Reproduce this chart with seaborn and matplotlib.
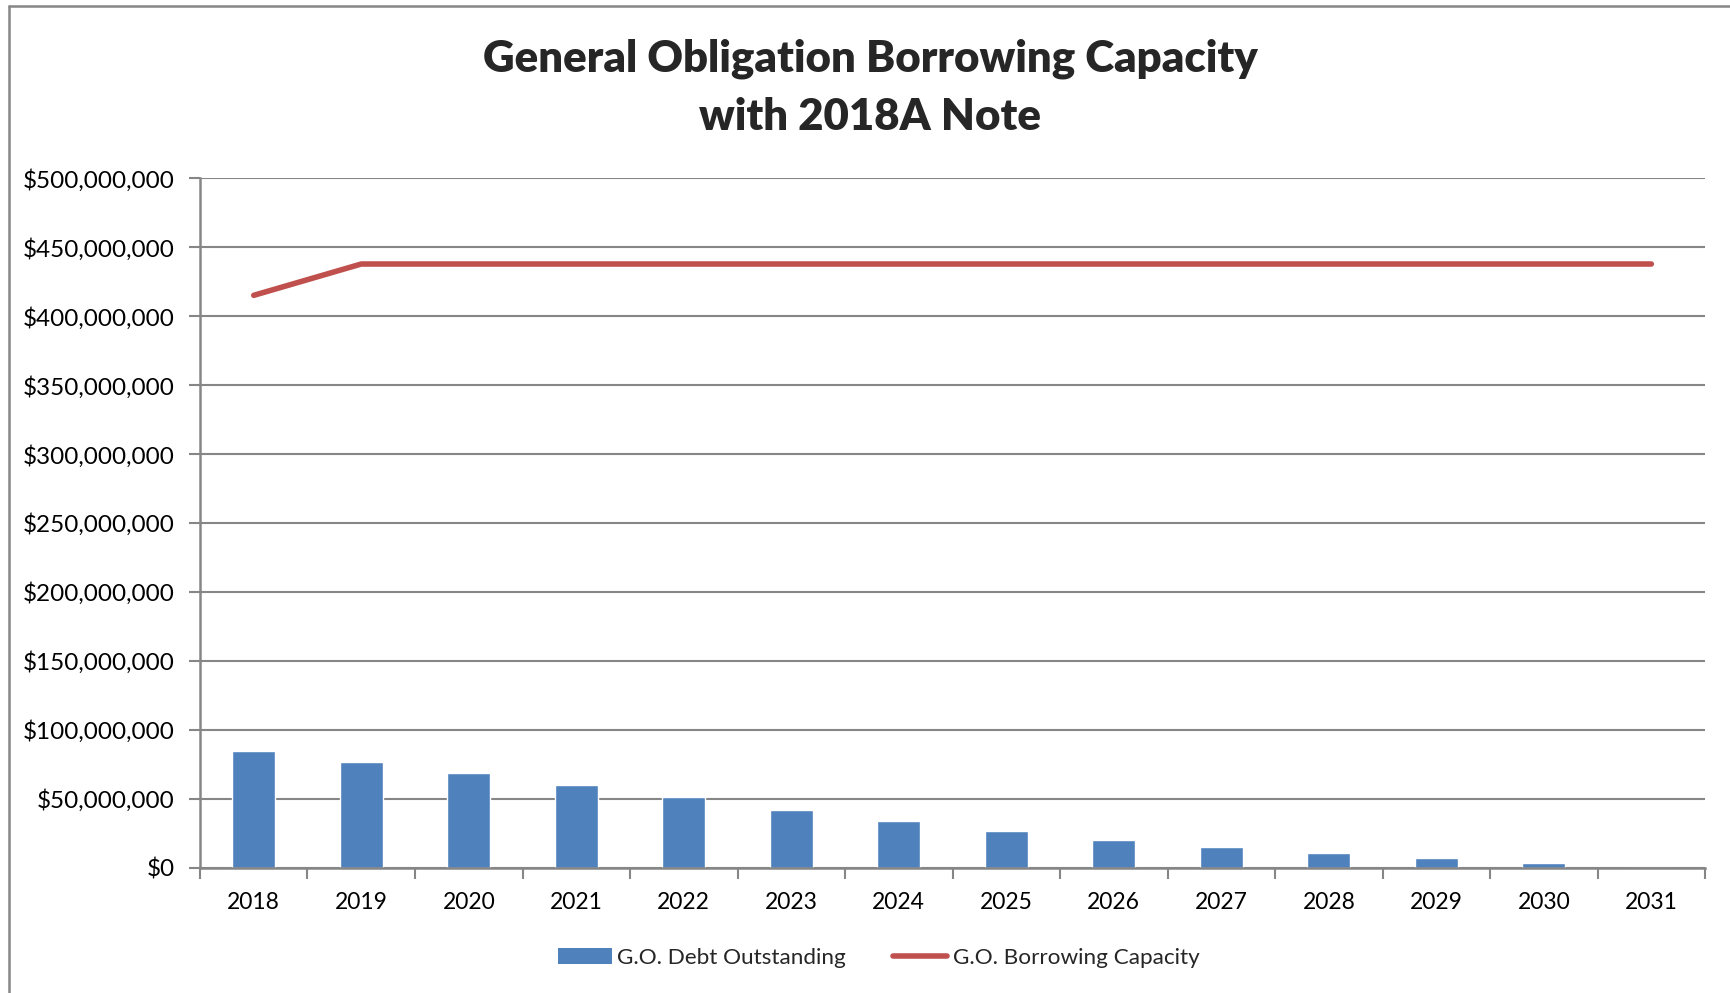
import seaborn as sns
import matplotlib.pyplot as plt
import matplotlib as mpl
from matplotlib.lines import Line2D
from matplotlib.patches import Patch
from matplotlib.ticker import FuncFormatter, FixedLocator
import numpy as np

years = ["2018", "2019", "2020", "2021", "2022", "2023", "2024",
         "2025", "2026", "2027", "2028", "2029", "2030", "2031"]
debt_outstanding = [85.1e6, 77.1e6, 68.9e6, 60.2e6, 51.5e6, 42.2e6, 34.2e6,
                    26.9e6, 20.4e6, 15.3e6, 10.7e6, 7.3e6, 3.4e6, 0.0]
borrowing_capacity = [415.0e6, 437.7e6, 437.7e6, 437.7e6, 437.7e6, 437.7e6, 437.7e6,
                      437.7e6, 437.7e6, 437.7e6, 437.7e6, 437.7e6, 437.7e6, 437.7e6]

sns.set_style("white")
plt.rcParams['font.family'] = ['Lato', 'DejaVu Sans']
grey = "#868686"
blue = "#4F81BD"
red = "#C0504D"

fig = plt.figure(figsize=(17.3, 9.93), dpi=100)
ax = fig.add_axes([0.1156, 0.1259, 0.870, 0.6948])

sns.barplot(x=years, y=debt_outstanding, color=blue, width=0.4, saturation=1, ax=ax)
sns.lineplot(x=np.arange(len(years)), y=borrowing_capacity, color=red, linewidth=4.0,
             ax=ax, solid_capstyle="round")

ax.set_xlim(-0.5, len(years) - 0.5)
ax.set_ylim(0, 500e6)
ax.set_yticks(np.arange(0, 500e6 + 1, 50e6))
ax.yaxis.set_major_formatter(FuncFormatter(lambda v, p: "${:,.0f}".format(v)))
ax.yaxis.grid(True, color=grey, linewidth=1.5)
ax.set_axisbelow(True)

ax.xaxis.set_minor_locator(FixedLocator(np.arange(-0.5, len(years), 1.0)))
ax.tick_params(axis="x", which="major", length=0, pad=17, labelsize=16.5, colors="black")
ax.tick_params(axis="x", which="minor", length=8, width=1.5, color=grey, bottom=True)
ax.tick_params(axis="y", length=8, width=1.5, color=grey, left=True, pad=10,
               labelsize=17.5, labelcolor="black")

for side in ["top", "right"]:
    ax.spines[side].set_visible(False)
for side in ["left", "bottom"]:
    ax.spines[side].set_color(grey)
    ax.spines[side].set_linewidth(1.8)

fig.text(0.503, 0.941, "General Obligation Borrowing Capacity", ha="center", va="center",
         fontsize=31.5, fontweight="heavy")
fig.text(0.503, 0.882, "with 2018A Note", ha="center", va="center",
         fontsize=31.5, fontweight="heavy")

handles = [Patch(facecolor=blue, edgecolor="none", label="G.O. Debt Outstanding"),
           Line2D([0], [0], color=red, linewidth=4.0, solid_capstyle="round",
                  label="G.O. Borrowing Capacity")]
fig.legend(handles=handles, loc="center", bbox_to_anchor=(0.508, 0.035), ncol=2,
           frameon=False, fontsize=16.2, handlelength=2.4, handletextpad=0.25,
           columnspacing=2.1)

# outer chart border (left and top edges visible)
fig.add_artist(Line2D([0.0052, 0.0052], [0.0, 0.994], transform=fig.transFigure,
                      color=grey, linewidth=1.8))
fig.add_artist(Line2D([0.0052, 1.0], [0.994, 0.994], transform=fig.transFigure,
                      color=grey, linewidth=1.8))

plt.savefig("out.png", dpi=100)
